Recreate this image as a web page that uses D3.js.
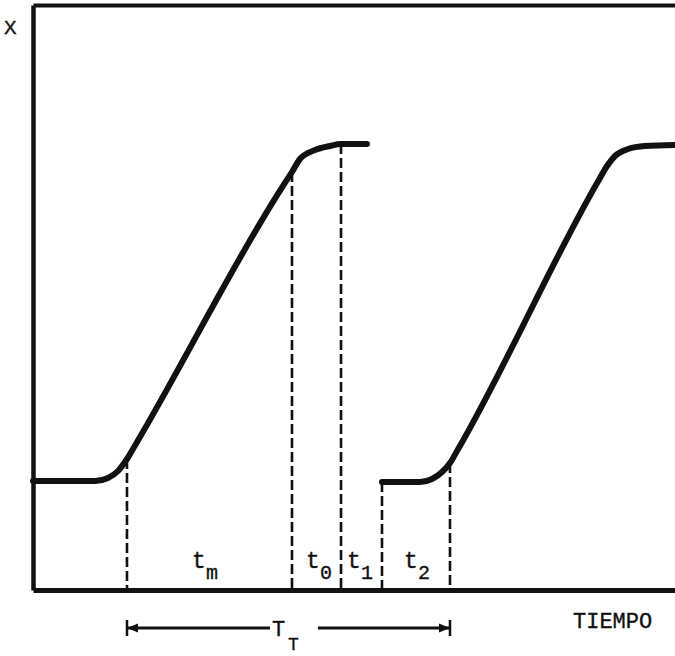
<!DOCTYPE html>
<html>
<head>
<meta charset="utf-8">
<script src="https://cdn.jsdelivr.net/npm/d3@7"></script>
<style>
  html, body { margin: 0; padding: 0; background: #fff; }
  svg { display: block; }
  text { font-family: "Liberation Mono", "DejaVu Sans Mono", monospace; fill: #111; stroke: #111; stroke-width: 0.35; }
</style>
</head>
<body>
<svg id="chart" width="675" height="656"></svg>
<script>
// ---- data (time units 0..100, value units 0..100) ----
const cycle1Time  = [0, 9.66, 11.68, 13.24, 14.64, 15.89, 38.97, 40.34, 41.59, 43.93, 46.26, 47.98, 52.02];
const cycle1Value = [18.63, 18.63, 19.15, 20.34, 22.39, 24.70, 69.14, 71.45, 73.68, 75.21, 75.90, 76.24, 76.24];
const cycle2Time  = [54.36, 60.28, 62.15, 63.71, 64.95, 66.20, 88.16, 89.41, 90.65, 92.68, 95.33, 100];
const cycle2Value = [18.46, 18.46, 18.97, 20.17, 21.71, 24.05, 70.14, 72.48, 74.19, 75.38, 75.90, 76.07];

const markTimes  = [14.64, 40.34, 47.98, 54.36, 64.95];
const markValues = [22.39, 71.45, 76.24, 18.46, 21.71];

const phaseLabels    = ["m", "0", "1", "2"];
const phaseLabelTime = [24.92, 42.68, 49.07, 57.94];

const totalStart = 14.64, totalEnd = 64.95;
const totalGap = [36.92, 44.39];

const svg = d3.select("#chart");
const x = d3.scaleLinear().domain([0, 100]).range([33, 675]);
const y = d3.scaleLinear().domain([0, 100]).range([590, 5]);
const ink = "#111";

// frame / axes
const xAxis = svg.append("g").attr("transform", `translate(0,${y(0)})`)
  .call(d3.axisBottom(x).tickValues([]).tickSizeOuter(0));
xAxis.select(".domain").attr("stroke", ink).attr("stroke-width", 5);
const topAxis = svg.append("g").attr("transform", `translate(0,${y(100)})`)
  .call(d3.axisTop(x).tickValues([]).tickSizeOuter(0));
topAxis.select(".domain").attr("stroke", ink).attr("stroke-width", 4);
const yAxis = svg.append("g").attr("transform", `translate(${x(0)},0)`)
  .call(d3.axisLeft(y).tickValues([]).tickSizeOuter(0));
yAxis.select(".domain").attr("stroke", ink).attr("stroke-width", 4.5);

// dashed markers
svg.append("g").selectAll("line").data(markTimes).join("line")
  .attr("x1", d => x(d)).attr("x2", d => x(d))
  .attr("y1", (d, i) => y(markValues[i])).attr("y2", y(0))
  .attr("stroke", ink).attr("stroke-width", 2.6).attr("stroke-dasharray", "10,4");

// curves
const line = d3.line().x(d => x(d[0])).y(d => y(d[1])).curve(d3.curveMonotoneX);
[[cycle1Time, cycle1Value], [cycle2Time, cycle2Value]].forEach(([t, v]) => {
  svg.append("path").datum(t.map((d, i) => [d, v[i]]))
    .attr("d", line).attr("fill", "none").attr("stroke", ink)
    .attr("stroke-width", 6).attr("stroke-linecap", "round").attr("stroke-linejoin", "round");
});

// phase labels
phaseLabelTime.forEach((t, i) => {
  svg.append("text").attr("x", x(t) - 1).attr("y", 568).attr("font-size", 23).text("t");
  svg.append("text").attr("x", x(t) + 13).attr("y", 579).attr("font-size", 20).text(phaseLabels[i]);
});

// total time arrow
const ay = 628;
svg.append("line").attr("x1", x(totalStart)).attr("x2", x(totalGap[0])).attr("y1", ay).attr("y2", ay)
  .attr("stroke", ink).attr("stroke-width", 3);
svg.append("line").attr("x1", x(totalGap[1])).attr("x2", x(totalEnd)).attr("y1", ay).attr("y2", ay)
  .attr("stroke", ink).attr("stroke-width", 3);
[[totalStart, 1], [totalEnd, -1]].forEach(([t, dir]) => {
  const px = x(t);
  svg.append("path").attr("d", `M${px},${ay} L${px + dir * 11},${ay - 4.5} L${px + dir * 11},${ay + 4.5} Z`).attr("fill", ink);
  svg.append("line").attr("x1", px).attr("x2", px).attr("y1", ay - 8).attr("y2", ay + 8)
    .attr("stroke", ink).attr("stroke-width", 2.5);
});
svg.append("text").attr("x", x(totalGap[0]) + 2).attr("y", 636).attr("font-size", 22).text("T");
svg.append("text").attr("x", x(totalGap[0]) + 18).attr("y", 650).attr("font-size", 18).text("T");

// axis titles
svg.append("text").attr("x", 4).attr("y", 34).attr("font-size", 21).text("X");
svg.append("text").attr("x", 573).attr("y", 628).attr("font-size", 22).text("TIEMPO");
</script>
</body>
</html>
